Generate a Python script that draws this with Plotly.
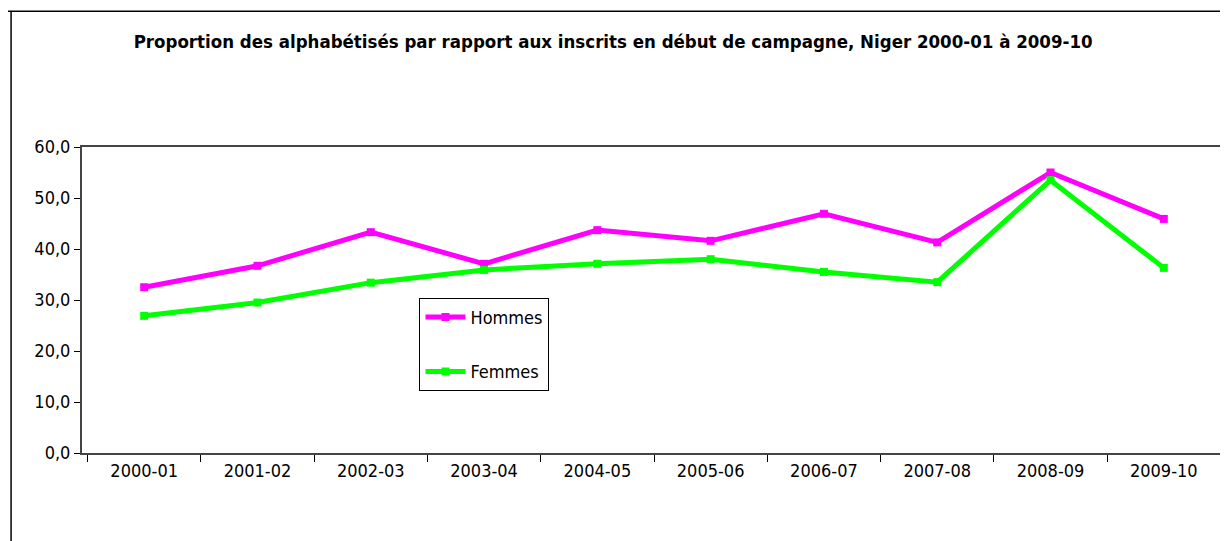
import plotly.graph_objects as go

# Campagnes et proportions (%)
campagnes = ["2000-01", "2001-02", "2002-03", "2003-04", "2004-05",
             "2005-06", "2006-07", "2007-08", "2008-09", "2009-10"]
hommes = [32.5, 36.7, 43.3, 37.1, 43.7, 41.6, 46.9, 41.3, 55.0, 45.9]
femmes = [26.9, 29.5, 33.4, 35.9, 37.1, 38.0, 35.5, 33.5, 53.5, 36.3]
y_ticks = [0, 10, 20, 30, 40, 50, 60]
y_labels = ["0,0", "10,0", "20,0", "30,0", "40,0", "50,0", "60,0"]

FONT = "Liberation Sans Narrow, Arial Narrow, DejaVu Sans Condensed, Liberation Sans, Arial"

fig = go.Figure()
fig.add_trace(go.Scatter(x=campagnes, y=hommes, name="Hommes", mode="lines+markers",
                         legendgroup="h",
                         line=dict(color="#FF00FF", width=5),
                         marker=dict(symbol="square", size=8, color="#FF00FF")))
fig.add_trace(go.Scatter(x=campagnes, y=femmes, name="Femmes", mode="lines+markers",
                         legendgroup="f",
                         line=dict(color="#00FF00", width=5),
                         marker=dict(symbol="square", size=8, color="#00FF00")))

# la page ajoute 8 px de marge au corps : figure un peu plus petite
fig.update_layout(
    width=1220, height=533,
    margin=dict(l=74, r=2, t=139, b=88, autoexpand=False),
    paper_bgcolor="white", plot_bgcolor="white",
    font=dict(family=FONT, size=18, color="black"),
    title=dict(text="<b>Proportion des alphabétisés par rapport aux inscrits en début de campagne, Niger 2000-01 à 2009-10</b>",
               x=0.496, xanchor="center", y=0.937, yanchor="middle",
               font=dict(family=FONT, size=18.5, color="black")),
    legend=dict(x=0.295, y=0.507, xanchor="left", yanchor="top",
                bordercolor="black", borderwidth=1, bgcolor="white",
                font=dict(family=FONT, size=18), tracegroupgap=28,
                itemwidth=40),
    showlegend=True,
)

fig.update_xaxes(type="category", showgrid=False, showline=True, linecolor="#444444",
                 linewidth=2, mirror=True, ticks="outside", tickson="boundaries",
                 ticklen=7, tickcolor="black", automargin=False,
                 tickfont=dict(family=FONT, size=18))
fig.update_yaxes(range=[0, 60], tickvals=y_ticks, ticktext=y_labels, showgrid=False,
                 showline=True, linecolor="#444444", linewidth=2, mirror=True,
                 ticks="outside", ticklen=6, tickcolor="black", zeroline=False,
                 automargin=False, tickfont=dict(family=FONT, size=18))

# cadre extérieur du graphique
fig.add_shape(type="line", xref="paper", yref="paper", x0=-0.062, x1=-0.062, y0=-0.3, y1=1.444,
              line=dict(color="black", width=1.5))
fig.add_shape(type="line", xref="paper", yref="paper", x0=-0.068, x1=1.01, y0=1.444, y1=1.444,
              line=dict(color="black", width=1.5))

fig.write_html("out.html")
